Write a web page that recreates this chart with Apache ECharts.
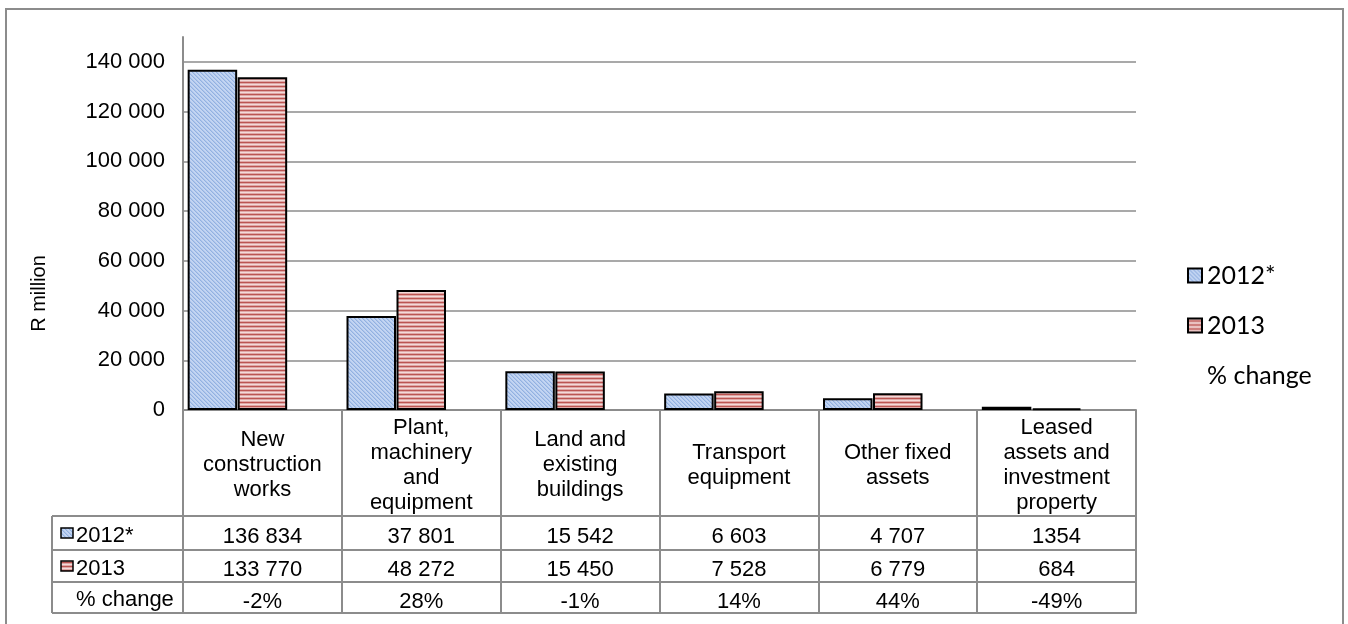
<!DOCTYPE html>
<html>
<head>
<meta charset="utf-8">
<title>Capital expenditure by type of asset</title>
<script src="https://cdn.jsdelivr.net/npm/echarts@6/dist/echarts.min.js"></script>
<style>
html,body{margin:0;padding:0;background:#fff;}
#chart{width:1348px;height:624px;}
</style>
</head>
<body>
<div id="chart"></div>
<script>
// categories and values
var categories = ["New\nconstruction\nworks", "Plant,\nmachinery\nand\nequipment", "Land and\nexisting\nbuildings", "Transport\nequipment", "Other fixed\nassets", "Leased\nassets and\ninvestment\nproperty"];
var values2012 = [136834, 37801, 15542, 6603, 4707, 1354];
var values2013 = [133770, 48272, 15450, 7528, 6779, 684];
var pctChange = [-2, 28, -1, 14, 44, -49];
// data table text, as printed
var labels2012 = ["136 834", "37 801", "15 542", "6 603", "4 707", "1354"];
var labels2013 = ["133 770", "48 272", "15 450", "7 528", "6 779", "684"];
var seriesNames = ["2012*", "2013", "% change"];

var GRAY = "#8c8c8c";
var FONT = '"Liberation Sans", Arial, sans-serif';

// bar fills: blue diagonal hatch and red horizontal stripes
function makeTile(w, h, draw){
	var c = document.createElement("canvas");
	c.width = w; c.height = h;
	draw(c.getContext("2d"));
	return {image: c, repeat: "repeat"};
}
var bluePattern = makeTile(4, 4, function(ctx){
	ctx.fillStyle = "#c3d5f2";
	ctx.fillRect(0, 0, 4, 4);
	ctx.fillStyle = "#93b1e0";
	for(var i = 0; i < 4; i++){ ctx.fillRect(i, i, 1, 1); }
	ctx.fillStyle = "#adc5ec";
	for(var j = 0; j < 4; j++){ ctx.fillRect((j + 1) % 4, j, 1, 1); }
});
var redPattern = makeTile(1, 4, function(ctx){
	var rows = ["#f3dad9", "#dfa7a6", "#bb5552", "#dfa7a6"];
	rows.forEach(function(col, i){ ctx.fillStyle = col; ctx.fillRect(0, i, 1, 1); });
});

function fmtThousands(v){
	return String(v).replace(/\B(?=(\d{3})+(?!\d))/g, " ");
}

// one x axis per data-table row, stacked under the plot with offset
function tableAxis(offset, height, texts){
	return {
		type: "category",
		data: categories,
		position: "bottom",
		offset: offset,
		axisLine: {show: true, onZero: false, lineStyle: {color: GRAY, width: 2}},
		axisTick: {show: height > 0, length: height, lineStyle: {color: GRAY, width: 2}},
		axisLabel: {
			show: !!texts,
			interval: 0,
			margin: height / 2 + 4,
			verticalAlign: "middle",
			fontFamily: FONT,
			fontSize: 22,
			color: "#000",
			formatter: function(v, i){ return texts ? texts[i] : ""; }
		},
		splitLine: {show: false}
	};
}

var rowMid = [536, 569, 600];
var rowLines = [516, 550, 582, 613];
var graphics = [{
	type: "rect",
	shape: {x: 6, y: 9, width: 1337, height: 640},
	style: {fill: "none", stroke: GRAY, lineWidth: 2},
	silent: true
}, {
	type: "line",
	shape: {x1: 52, y1: 516, x2: 52, y2: 613},
	style: {stroke: GRAY, lineWidth: 2}
}];
rowLines.forEach(function(y){
	graphics.push({type: "line", shape: {x1: 52, y1: y, x2: 183, y2: y}, style: {stroke: GRAY, lineWidth: 2}});
});
[bluePattern, redPattern].forEach(function(p, i){
	graphics.push({type: "rect", shape: {x: 61, y: rowMid[i] - 8, width: 12, height: 10}, style: {fill: p, stroke: "#000", lineWidth: 1.5}});
});
seriesNames.forEach(function(n, i){
	graphics.push({type: "text", style: {text: n, x: 76, y: rowMid[i], verticalAlign: "middle", font: "22px " + FONT, fill: "#000"}});
});

var myChart = echarts.init(document.getElementById("chart"));
var option = {
	animation: false,
	backgroundColor: "#fff",
	grid: {left: 183, right: 212, top: 37, bottom: 214, outerBoundsMode: "none"},
	legend: {
		orient: "vertical",
		left: 1187,
		top: 263,
		padding: 0,
		icon: "rect",
		itemWidth: 14,
		itemHeight: 14,
		itemGap: 25,
		itemTextGap: 18,
		textStyle: {fontFamily: "Lato, 'Open Sans', sans-serif", fontSize: 25, lineHeight: 24, color: "#000"},
		data: seriesNames
	},
	xAxis: [
		{
			type: "category",
			data: categories,
			position: "bottom",
			axisLine: {show: true, onZero: false, lineStyle: {color: GRAY, width: 2}},
			axisTick: {show: true, length: 106, lineStyle: {color: GRAY, width: 2}},
			axisLabel: {interval: 0, margin: 55, verticalAlign: "middle", lineHeight: 25, fontFamily: FONT, fontSize: 22, color: "#000"},
			splitLine: {show: false}
		},
		tableAxis(106, 34, labels2012),
		tableAxis(140, 32, labels2013),
		tableAxis(172, 31, pctChange.map(function(v){ return v + "%"; })),
		tableAxis(203, 0, null)
	],
	yAxis: {
		type: "value",
		min: 0,
		max: 150000,
		interval: 20000,
		name: "R million",
		nameLocation: "middle",
		nameGap: 134,
		nameTextStyle: {fontFamily: FONT, fontSize: 20, color: "#000", padding: [0, 140, 0, 0]},
		axisLine: {show: true, lineStyle: {color: GRAY, width: 2}},
		axisTick: {show: false},
		axisLabel: {showMaxLabel: false, margin: 18, fontFamily: FONT, fontSize: 22, color: "#000", formatter: fmtThousands},
		splitLine: {show: true, showMaxLine: false, lineStyle: {color: GRAY, width: 1.5}}
	},
	series: [{
		name: seriesNames[0],
		type: "bar",
		data: values2012,
		barWidth: 49.5,
		barGap: "1%",
		itemStyle: {color: bluePattern, borderColor: "#000", borderWidth: 2}
	}, {
		name: seriesNames[1],
		type: "bar",
		data: values2013,
		barWidth: 49.5,
		barGap: "1%",
		itemStyle: {color: redPattern, borderColor: "#000", borderWidth: 2}
	}, {
		// plotted like Excel does: invisible third bar per category
		name: seriesNames[2],
		type: "bar",
		data: pctChange,
		barWidth: 49.5,
		barGap: "1%",
		itemStyle: {color: "rgba(0,0,0,0)", borderWidth: 0}
	}],
	graphic: graphics
};
myChart.setOption(option);
</script>
</body>
</html>
